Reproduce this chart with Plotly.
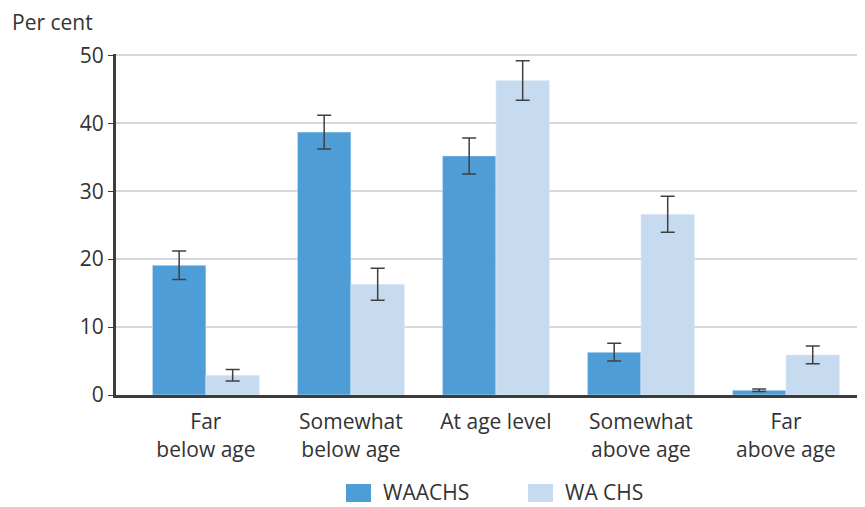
import plotly.graph_objects as go

categories = ["Far<br>below age", "Somewhat<br>below age", "At age level",
              "Somewhat<br>above age", "Far<br>above age"]
waachs = [19.1, 38.7, 35.2, 6.3, 0.7]
waachs_err = [2.1, 2.5, 2.65, 1.3, 0.2]
wachs = [2.9, 16.3, 46.3, 26.6, 5.9]
wachs_err = [0.85, 2.35, 2.9, 2.65, 1.3]

dark_blue = "#4f9dd6"
light_blue = "#c6dbf0"
err_col = "#404040"
txt = "#333333"
font_family = "Open Sans, Noto Sans, sans-serif"

# page body has an 8px margin, so the figure is 8px smaller than the window
W, H = 857, 499
L, T, B = 108, 46, 112
PW, PH = W - L, H - T - B

fig = go.Figure()
fig.add_trace(go.Bar(x=list(range(5)), y=waachs, name="WAACHS", marker_color=dark_blue,
                     error_y=dict(type="data", array=waachs_err, color=err_col, thickness=1.5, width=7),
                     showlegend=False))
fig.add_trace(go.Bar(x=list(range(5)), y=wachs, name="WA CHS", marker_color=light_blue,
                     error_y=dict(type="data", array=wachs_err, color=err_col, thickness=1.5, width=7),
                     showlegend=False))

fig.update_layout(
    width=W, height=H,
    margin=dict(l=L, r=0, t=T, b=B),
    barmode="group", bargap=0.262, bargroupgap=0,
    plot_bgcolor="white", paper_bgcolor="white",
    font=dict(family=font_family, size=21, color=txt),
    xaxis=dict(tickmode="array", tickvals=list(range(5)), ticktext=categories,
               range=[-0.62, 4.545], showgrid=False, zeroline=False,
               showline=True, linecolor="#3c3c3c", linewidth=3, ticks="",
               ticklabelstandoff=6, tickfont=dict(size=21, color=txt)),
    yaxis=dict(range=[0, 50.2], tickvals=[0, 10, 20, 30, 40, 50],
               showgrid=True, gridcolor="#d5d9de", gridwidth=2, zeroline=False,
               showline=True, linecolor="#3c3c3c", linewidth=3,
               ticks="outside", ticklen=5, tickcolor="#3c3c3c", tickwidth=1,
               tickfont=dict(size=21, color=txt)),
)

fig.add_annotation(text="Per cent", xref="paper", yref="paper", x=(2 - L) / PW, y=1 + (T - 14) / PH,
                   xanchor="left", yanchor="middle", showarrow=False,
                   font=dict(size=21, color=txt))

# legend built by hand
legend_items = [("WAACHS", dark_blue, 338), ("WA CHS", light_blue, 520)]
for label, col, px0 in legend_items:
    fig.add_shape(type="rect", xref="paper", yref="paper",
                  x0=(px0 - L) / PW, x1=(px0 + 25 - L) / PW,
                  y0=-(476 - (T + PH)) / PH, y1=-(494 - (T + PH)) / PH,
                  fillcolor=col, line=dict(width=0))
    fig.add_annotation(text=label, xref="paper", yref="paper",
                       x=(px0 + 35 - L) / PW, y=-(484 - (T + PH)) / PH,
                       xanchor="left", yanchor="middle", showarrow=False,
                       font=dict(size=21, color=txt))

fig.write_html("out.html")
